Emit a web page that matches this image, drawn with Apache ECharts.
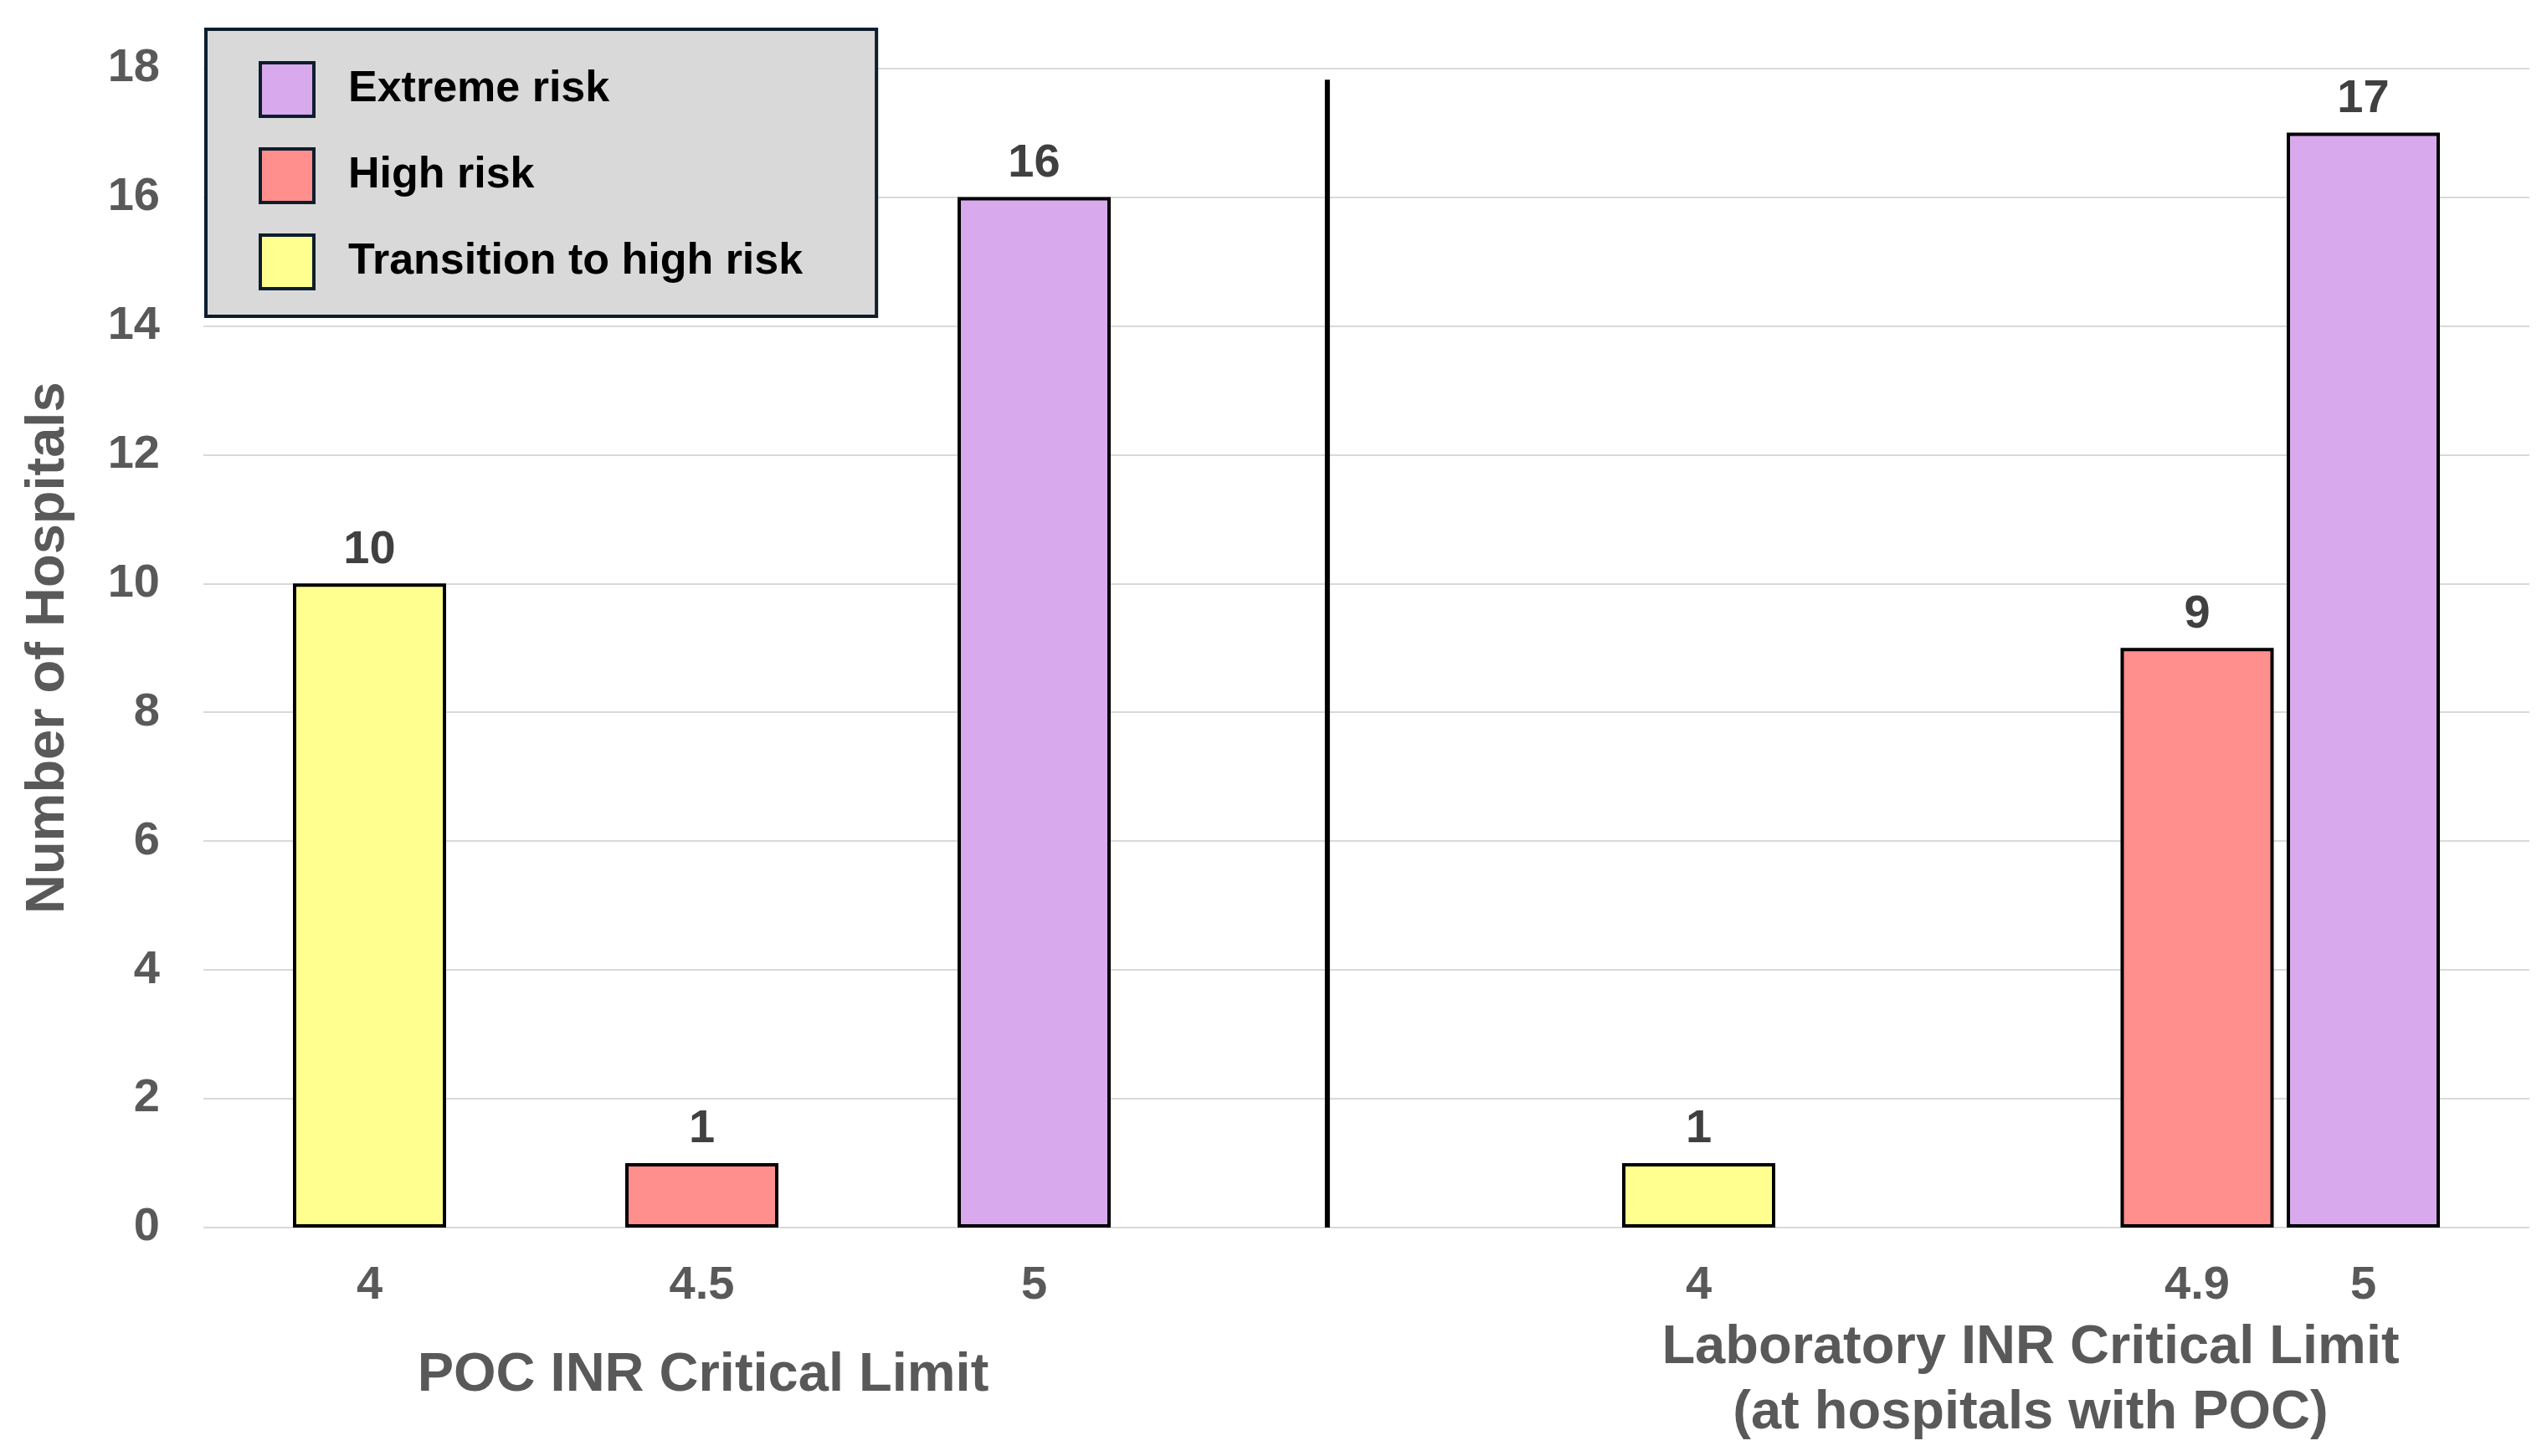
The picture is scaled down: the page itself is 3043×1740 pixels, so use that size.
<!DOCTYPE html>
<html>
<head>
<meta charset="utf-8">
<script src="https://cdn.jsdelivr.net/npm/echarts@6/dist/echarts.min.js"></script>
<style>
  html, body { margin: 0; padding: 0; background: #fff; }
  #main { width: 3043px; height: 1740px; }
</style>
</head>
<body>
<div id="main"></div>
<script>
// x tick labels, left group = POC, right group = laboratory
const categories = ['4', '4.5', '5', '4', '4.9', '5'];
// hospitals per limit, one array per risk class
const extremeRisk = [null, null, 16, null, null, 17];
const highRisk = [null, 1, null, null, 9, null];
const transitionRisk = [10, null, null, 1, null, null];
const yTicks = [0, 2, 4, 6, 8, 10, 12, 14, 16, 18];

// where each bar sits along the hidden value x axis (layout only)
const barSlots = [0, 4, 8, 16, 22, 24];
const dividerAt = 11.53;

const FONT = "'Liberation Sans', Arial, sans-serif";
const GRAY = '#595959';

function toPoints(values) {
  return values.map((v, i) => (v == null ? null : [barSlots[i], v]));
}

const labelBySlot = {};
barSlots.forEach((s, i) => { labelBySlot[s] = categories[i]; });

function barSeries(name, values, color) {
  return {
    name: name,
    type: 'bar',
    data: toPoints(values),
    barWidth: 183,
    barGap: '-100%',
    itemStyle: { color: color, borderColor: '#000', borderWidth: 4 },
    label: {
      show: true,
      position: 'top',
      distance: 12,
      fontFamily: FONT,
      fontSize: 56,
      fontWeight: 'bold',
      color: '#404040'
    }
  };
}

const chart = echarts.init(document.getElementById('main'));

const series = [
  barSeries('Extreme risk', extremeRisk, '#d9a9ee'),
  barSeries('High risk', highRisk, '#ff8f8c'),
  barSeries('Transition to high risk', transitionRisk, '#ffff8f'),
  {
    // vertical separator between the two groups
    name: 'divider',
    type: 'line',
    silent: true,
    symbol: 'none',
    lineStyle: { color: '#000', width: 6, cap: 'butt' },
    data: [[dividerAt, 0], [dividerAt, 17.82]],
    z: 5
  }
];

chart.setOption({
  animation: false,
  backgroundColor: '#fff',
  grid: { left: 243, right: 21, top: 81.5, bottom: 273 },
  legend: {
    orient: 'vertical',
    left: 246,
    top: 35,
    data: ['Extreme risk', 'High risk', 'Transition to high risk'],
    backgroundColor: '#d9d9d9',
    borderColor: '#0c1e2e',
    borderWidth: 4,
    padding: [38, 88, 31, 63],
    itemWidth: 64,
    itemHeight: 64,
    itemGap: 35,
    icon: 'rect',
    itemStyle: { borderColor: '#0c1e2e', borderWidth: 4 },
    textStyle: { fontFamily: FONT, fontSize: 52, fontWeight: 'bold', color: '#000', padding: [0, 0, 0, 36] }
  },
  xAxis: {
    type: 'value',
    min: -2,
    max: 26,
    interval: 1,
    axisLine: { show: false },
    axisTick: { show: false },
    splitLine: { show: false },
    axisLabel: {
      margin: 42,
      fontFamily: FONT,
      fontSize: 56,
      fontWeight: 'bold',
      color: GRAY,
      formatter: function (v) { return labelBySlot[v] || ''; }
    }
  },
  yAxis: {
    type: 'value',
    min: yTicks[0],
    max: yTicks[yTicks.length - 1],
    interval: 2,
    name: 'Number of Hospitals',
    nameLocation: 'middle',
    nameGap: 152,
    nameTextStyle: { fontFamily: FONT, fontSize: 65, fontWeight: 'bold', color: GRAY },
    axisLine: { show: false },
    axisTick: { show: false },
    splitLine: { lineStyle: { color: '#d9d9d9', width: 2 } },
    axisLabel: { margin: 52, fontFamily: FONT, fontSize: 56, fontWeight: 'bold', color: GRAY }
  },
  graphic: [
    {
      type: 'text',
      style: {
        text: 'POC INR Critical Limit',
        x: 840, y: 1644,
        align: 'center', verticalAlign: 'middle',
        fontFamily: FONT, fontSize: 65, fontWeight: 'bold', fill: GRAY
      }
    },
    {
      type: 'text',
      style: {
        text: 'Laboratory INR Critical Limit\n(at hospitals with POC)',
        x: 2426, y: 1650,
        align: 'center', verticalAlign: 'middle',
        lineHeight: 78,
        fontFamily: FONT, fontSize: 65, fontWeight: 'bold', fill: GRAY
      }
    }
  ],
  series: series
});
</script>
</body>
</html>
